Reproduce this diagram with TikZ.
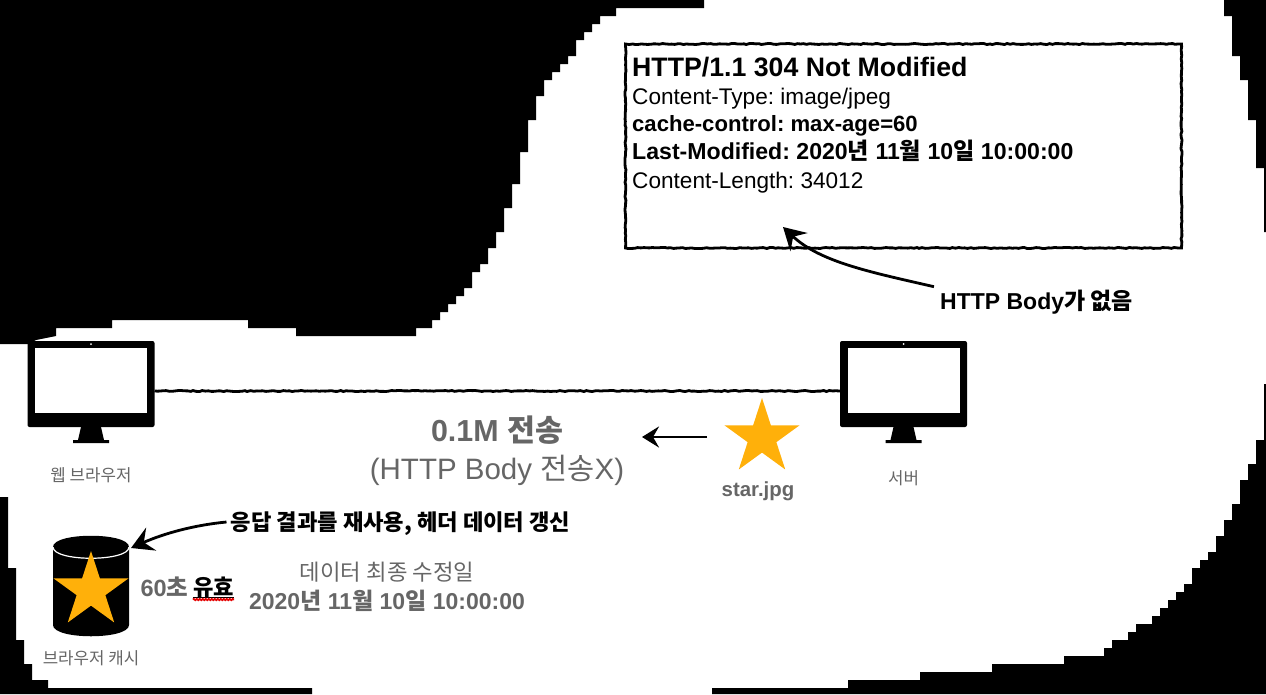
\documentclass[tikz,border=0pt]{standalone}
\usepackage{fontspec}
\setmainfont{Liberation Sans}
\newfontfamily\kr{Noto Sans CJK KR}
\frenchspacing
\usetikzlibrary{arrows.meta,decorations.pathmorphing,shapes.geometric}
\definecolor{stargold}{HTML}{FFB00A}
\definecolor{labelgray}{HTML}{666666}
\tikzset{
 mask/.style={fill=black},
 roughline/.style={draw=black,line width=2.8pt,decorate,decoration={random steps,segment length=3pt,amplitude=.55pt}},
 handarrow/.style={draw=black,line width=2.8pt,-{Stealth[length=22pt,width=25pt,inset=8pt]}},
 shortarrow/.style={draw=black,line width=2.8pt,-{Stealth[length=17pt,width=21pt,inset=6pt]}},
 boxline/.style={anchor=base west,inner sep=0,font=\fontsize{22.6}{26}\selectfont},
 boxbold/.style={anchor=base west,inner sep=0,font=\fontsize{22.1}{26}\selectfont\bfseries},
 smalllabel/.style={inner sep=0,text=labelgray,font=\fontsize{16.8}{20}\selectfont},
 graylabel/.style={inner sep=0,text=labelgray,font=\fontsize{22.3}{26}\selectfont},
 graybold/.style={inner sep=0,text=labelgray,font=\fontsize{23}{27}\selectfont\bfseries},
 bigbold/.style={inner sep=0,text=labelgray,font=\fontsize{30.4}{36}\selectfont\bfseries},
 bigplain/.style={inner sep=0,text=labelgray,font=\fontsize{29.5}{35}\selectfont},
 remark/.style={inner sep=0,font=\fontsize{22.2}{26}\selectfont\bfseries},
 goldstar/.style={star,star points=5,star point ratio=2.618,fill=stargold,inner sep=0,minimum size=79pt},
 monitor/.pic={
  \node[rectangle,fill=black,rounded corners=2pt,minimum width=127pt,minimum height=86pt,inner sep=0] (-body) at (0,0) {};
  \node[rectangle,fill=white,minimum width=112pt,minimum height=65pt,inner sep=0] (-screen) at (0,-3.5) {};
  \fill[white] (0,-40) circle (1pt);
  \fill[black] (-10,43) -- (10,43) -- (13,56) -- (18,56) -- (18,59) -- (-18,59) -- (-18,56) -- (-13,56) -- cycle;
  \coordinate (-left) at (-63.5,7);
  \coordinate (-right) at (63.5,7);
 }
}
\begin{document}
\begin{tikzpicture}[x=1pt,y=-1pt]
\path[use as bounding box,fill=white] (0,0) rectangle (1266,694);
\fill[mask] (0,0) -- (0,344) -- (28,344) -- (36,340) -- (56,336) -- (56,328) -- (112,328) -- (112,320) -- (248,320) -- (248,328) -- (296,328) -- (296,336) -- (416,336) |- (432,328) |- (440,320) |- (448,312) |- (456,304) |- (464,296) |- (472,288) |- (480,272) |- (488,264) |- (496,248) |- (504,232) |- (512,208) |- (520,184) |- (528,152) |- (536,120) |- (544,96) |- (552,80) |- (560,72) |- (568,64) |- (576,56) |- (584,40) |- (592,32) |- (600,24) |- (616,16) |- (704,8) -- (704,0) -- cycle;
\fill[mask] (1224,0) -- (1224,16) -| (1232,56) -| (1240,80) -| (1248,120) -| (1256,168) -| (1264,232) -| (1266,232) -- (1266,0) -- cycle;
\fill[mask] (1266,384) -- (1264,384) -- (1264,440) -| (1256,464) -| (1248,480) -| (1240,504) -| (1232,520) -| (1224,536) -| (1216,552) -| (1208,560) -| (1200,568) -| (1192,584) -| (1184,592) -| (1176,600) -| (1168,608) -| (1160,616) -| (1152,624) -| (1136,632) -| (1128,640) -| (1112,648) -| (1104,656) -| (1064,664) -| (992,672) -| (920,680) -| (848,688) -| (712,694) -- (1266,694) -- cycle;
\fill[mask] (0,497) -| (8,568) -| (16,640) -| (24,664) -| (32,680) -| (48,688) -| (312,694) -- (0,694) -- cycle;
\node[roughline,rectangle,minimum width=556pt,minimum height=204pt,inner sep=0] (response) at (903.5,146) {};
\node[boxbold,font=\fontsize{26.7}{31}\selectfont\bfseries] (status) at (632,76) {HTTP/1.1 304 Not Modified};
\node[boxline] (ctype) at (632,104) {Content-Type: image/jpeg};
\node[boxbold] (cctrl) at (632,131) {cache-control: max-age=60};
\node[boxbold,font=\fontsize{23.1}{27}\selectfont\bfseries] (lastmod) at (632,159) {Last-Modified: 2020{\kr 년} 11{\kr 월} 10{\kr 일} 10:00:00};
\node[boxline] (clen) at (632,188) {Content-Length: 34012};
\node[remark,font=\fontsize{23}{27}\selectfont\bfseries] (nobody) at (1036.5,302) {HTTP Body{\kr 가 없음}};
\coordinate (bodytip) at (783,227);
\draw[handarrow] ([shift={(-6pt,3pt)}]nobody.north west) .. controls (870,272) and (820,262) .. (bodytip);
\pic (browser) at (91,384) {monitor};
\pic (server) at (903.5,384) {monitor};
\draw[roughline] (browser-right) -- (server-left);
\node[smalllabel] (browserlabel) at (91,475) {\kr 웹 브라우저};
\node[smalllabel] (serverlabel) at (903.5,478) {\kr 서버};
\node[bigbold] (sent) at (497,430) {0.1M {\kr 전송}};
\node[bigplain] (nobodysent) at (497,470) {(HTTP Body {\kr 전송}X)};
\node[goldstar] (sentstar) at (762,437.5) {};
\node[graybold,font=\fontsize{20.4}{24}\selectfont\bfseries] (starname) at (758,491) {star.jpg};
\coordinate (sendstart) at (707,437);
\coordinate (sendend) at (642,437);
\draw[shortarrow] (sendstart) -- (sendend);
\fill[black] (53,547) .. controls (53,532) and (129,532) .. (129,547) -- (129,625) .. controls (129,640) and (53,640) .. (53,625) -- cycle;
\draw[white,line width=1.2pt] (53,547) .. controls (53,562) and (129,562) .. (129,547);
\node[goldstar] (cachestar) at (91,590.5) {};
\node[smalllabel] (cachelabel) at (91,658) {\kr 브라우저 캐시};
\node[remark] (reuse) at (400.5,524) {\kr 응답 결과를 재사용, 헤더 데이터 갱신};
\coordinate (cachetip) at (131,548);
\draw[handarrow] ([shift={(-4pt,2pt)}]reuse.west) .. controls (195,525) and (165,533) .. (cachetip);
\node[graybold,font=\fontsize{23.5}{28}\selectfont\bfseries] (sixty) at (164.5,587) {60{\kr 초}};
\node[remark] (valid) at (213.5,587) {\kr 유효};
\draw[black,line width=1pt] (valid.south west) -- (valid.south east);
\draw[red!90!black,line width=1.7pt,decorate,decoration={snake,segment length=3pt,amplitude=.7pt}] ([yshift=-2pt]valid.south west) -- ([yshift=-2pt]valid.south east);
\node[graylabel] (modlabel) at (387,572) {\kr 데이터 최종 수정일};
\node[graybold] (moddate) at (387,601) {2020{\kr 년} 11{\kr 월} 10{\kr 일} 10:00:00};
\end{tikzpicture}
\end{document}
